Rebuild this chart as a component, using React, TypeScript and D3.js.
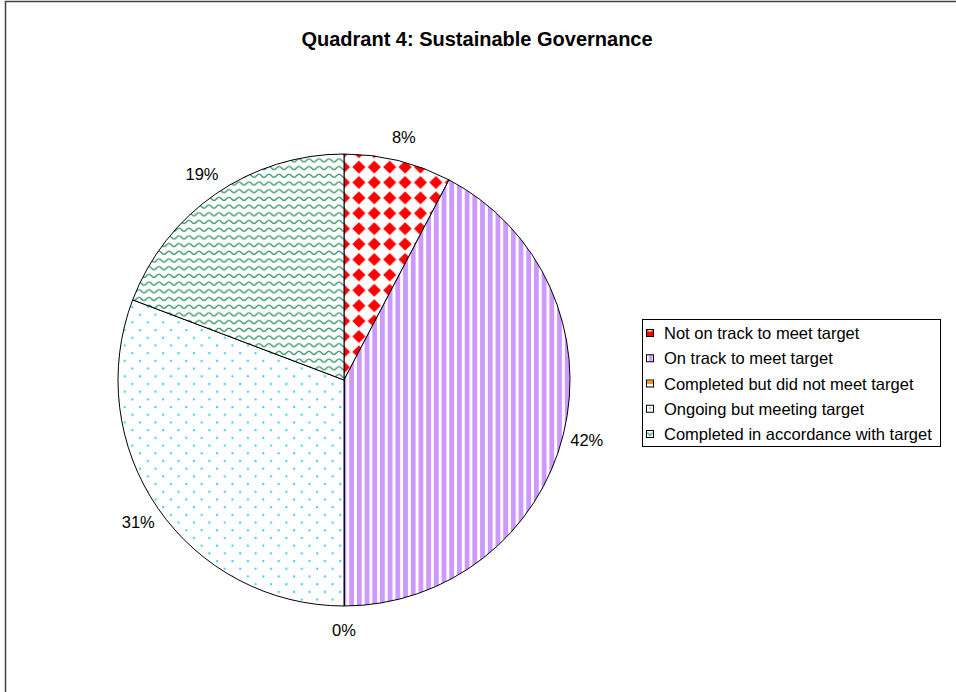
import React from "react";
import * as d3 from "d3";

const title = "Quadrant 4: Sustainable Governance";
const categories = [
  "Not on track to meet target",
  "On track to meet target",
  "Completed but did not meet target",
  "Ongoing but meeting target",
  "Completed in accordance with target",
];
const counts = [2, 11, 0, 8, 5];
const patternIds = ["pRed", "pPurple", "pOrange", "pCyan", "pGreen"];
const keyFills = ["url(#kRed)", "url(#kPurple)", "url(#pOrange)", "url(#kCyan)", "url(#kGreen)"];

const W = 956;
const H = 692;
const cx = 344;
const cy = 380;
const R = 226;

export default function App() {
  const total = d3.sum(counts);
  const pie = d3
    .pie<number>()
    .sort(null)
    .value((d) => d)
    .startAngle(0)
    .endAngle(2 * Math.PI);
  const arcs = pie(counts);
  const arcGen = d3.arc<d3.PieArcDatum<number>>().innerRadius(0).outerRadius(R);
  const labelArc = d3.arc<d3.PieArcDatum<number>>().innerRadius(250).outerRadius(250);
  const fmt = (v: number) => `${Math.round((v / total) * 100)}%`;

  const legendY = d3.scalePoint<number>().domain(d3.range(categories.length)).range([333, 434]);

  const P = 15.4;
  const h = 6.6;
  const diamond = (x: number, y: number) => `${x},${y - h} ${x + h},${y} ${x},${y + h} ${x - h},${y}`;

  return (
    <svg
      width={W}
      height={H}
      style={{ position: "absolute", left: 0, top: 0, background: "#fff" }}
      fontFamily="Liberation Sans, Arial, sans-serif"
    >
      <defs>
        <pattern id="pRed" width={P} height={P} patternUnits="userSpaceOnUse" x={cx + 2} y={cy}>
          <rect width={P} height={P} fill="#fff" />
          <polygon points={diamond(P / 2, P / 2)} fill="#ff0000" />
        </pattern>
        <pattern id="pPurple" width="7.7" height="10" patternUnits="userSpaceOnUse" x={cx} y="0">
          <rect width="7.7" height="10" fill="#fff" />
          <rect x="0" width="4.8" height="10" fill="#cc99ff" />
        </pattern>
        <pattern id="pOrange" width="6" height="6" patternUnits="userSpaceOnUse">
          <rect width="6" height="6" fill="#fff" />
          <rect y="3" width="6" height="3" fill="#ff9900" />
        </pattern>
        <pattern id="pCyan" width="15.4" height="15.4" patternUnits="userSpaceOnUse">
          <rect width="15.4" height="15.4" fill="#fff" />
          <rect x="3" y="3" width="2" height="2" fill="#33ccff" />
          <rect x="10.7" y="10.7" width="2" height="2" fill="#33ccff" />
        </pattern>
        <pattern id="pGreen" width="10" height="7.7" patternUnits="userSpaceOnUse">
          <rect width="10" height="7.7" fill="#fff" />
          <path d="M0,5.3 C2.5,5.3 2.5,2.1 5,2.1 C7.5,2.1 7.5,5.3 10,5.3" fill="none" stroke="#45a075" strokeWidth="1.5" />
        </pattern>
        <pattern id="kRed" width="1" height="1" patternContentUnits="objectBoundingBox">
          <rect width="1" height="1" fill="#ff0000" />
          <polygon points="0,0 1,0 0.5,0.35" fill="#fff" />
        </pattern>
        <pattern id="kPurple" width="1" height="1" patternContentUnits="objectBoundingBox">
          <rect width="1" height="1" fill="#fff" />
          <rect x="0.35" width="0.5" height="1" fill="#cc99ff" />
        </pattern>
        <pattern id="kCyan" width="1" height="1" patternContentUnits="objectBoundingBox">
          <rect width="1" height="1" fill="#fff" />
          <rect x="0.4" y="0.3" width="0.25" height="0.25" fill="#33ccff" />
        </pattern>
        <pattern id="kGreen" width="1" height="1" patternContentUnits="objectBoundingBox">
          <rect width="1" height="1" fill="#fff" />
          <path d="M0.1,0.3 L0.5,0.7 L0.9,0.3" fill="none" stroke="#45a075" strokeWidth="0.2" />
        </pattern>
      </defs>

      <rect x={5.5} y={1.5} width={W + 20} height={H + 20} fill="#fff" stroke="#404040" strokeWidth={1.5} />

      <text x={477} y={46} textAnchor="middle" fontSize={20} fontWeight="bold" fill="#000">
        {title}
      </text>

      <g transform={`translate(${cx},${cy})`}>
        {arcs.map((a, i) => (
          <path key={i} d={arcGen(a) || ""} fill={`url(#${patternIds[i]})`} stroke="#000" strokeWidth={1} />
        ))}
        {arcs.map((a, i) => {
          const [lx, ly] = labelArc.centroid(a);
          return (
            <text key={`l${i}`} x={lx} y={ly} textAnchor="middle" dominantBaseline="central" fontSize={16.5} fill="#000">
              {fmt(a.data)}
            </text>
          );
        })}
      </g>

      <rect x={642.5} y={319.5} width={298} height={127} fill="#fff" stroke="#000" strokeWidth={1} />
      {categories.map((c, i) => {
        const y = legendY(i) as number;
        return (
          <g key={c}>
            <rect x={646.5} y={y - 3.5} width={7} height={7} fill={keyFills[i]} stroke="#000" strokeWidth={1} />
            <text x={664} y={y} dominantBaseline="central" fontSize={16.5} fill="#000">
              {c}
            </text>
          </g>
        );
      })}
    </svg>
  );
}
